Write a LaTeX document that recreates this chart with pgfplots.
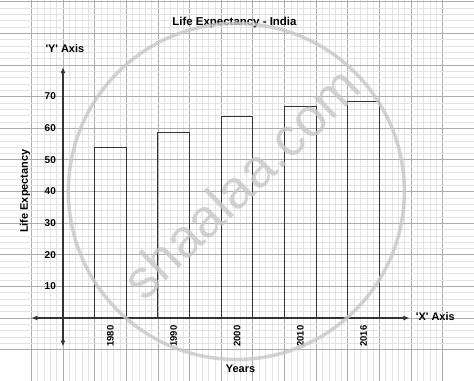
\documentclass[border=0pt]{standalone}
\usepackage{fontspec}
\setmainfont{Liberation Sans}
\usepackage{pgfplots}
\pgfplotsset{compat=1.18}
\usetikzlibrary{arrows.meta}
\begin{document}
\begin{tikzpicture}
\begin{axis}[
  scale only axis, width=474bp, height=381bp,
  xmin=-1.99, xmax=12.99, ymin=-19.9, ymax=100.5,
  xtick={-1,0,...,12}, ytick={-10,0,...,100},
  minor x tick num=4, minor y tick num=4,
  xticklabels={}, yticklabels={},
  major tick length=0pt, minor tick length=0pt,
  grid=both,
  major grid style={draw=black!32, line width=0.7bp},
  minor grid style={draw=black!11, line width=0.45bp},
  axis line style={draw=none},
  clip=false,
]
\addplot[ybar, bar width=1, draw=black!80, fill=none, line width=0.9bp]
  coordinates {(1.5,54) (3.5,58.6) (5.5,63.8) (7.5,66.9) (9.5,68.5)};
\draw[black!80, line width=1.1bp, {Latex[length=6bp,width=5bp]}-{Latex[length=6bp,width=5bp]}] (axis cs:0,-9) -- (axis cs:0,79.3);
\draw[black!80, line width=1.1bp, {Latex[length=6bp,width=5bp]}-{Latex[length=6bp,width=5bp]}] (axis cs:-1,0) -- (axis cs:10.95,0);
\node[font=\bfseries\fontsize{11.5}{13}\selectfont] at (axis cs:5.42,93.5) {Life Expectancy - India};
\node[font=\bfseries\fontsize{11}{13}\selectfont] at (axis cs:0.06,85.3) {\textquotesingle Y\textquotesingle{} Axis};
\node[font=\bfseries\fontsize{11}{13}\selectfont, anchor=west, inner sep=0pt] at (axis cs:11.15,0.4) {\textquotesingle X\textquotesingle{} Axis};
\node[font=\bfseries\fontsize{11}{13}\selectfont] at (axis cs:5.61,-16.1) {Years};
\node[font=\bfseries\fontsize{11}{13}\selectfont, rotate=90] at (axis cs:-1.2,40.1) {Life Expectancy};
\node[font=\bfseries\fontsize{10}{12}\selectfont, anchor=east, inner sep=0pt] at (axis cs:-0.22,10) {10};
\node[font=\bfseries\fontsize{10}{12}\selectfont, anchor=east, inner sep=0pt] at (axis cs:-0.22,20) {20};
\node[font=\bfseries\fontsize{10}{12}\selectfont, anchor=east, inner sep=0pt] at (axis cs:-0.22,30) {30};
\node[font=\bfseries\fontsize{10}{12}\selectfont, anchor=east, inner sep=0pt] at (axis cs:-0.22,40) {40};
\node[font=\bfseries\fontsize{10}{12}\selectfont, anchor=east, inner sep=0pt] at (axis cs:-0.22,50) {50};
\node[font=\bfseries\fontsize{10}{12}\selectfont, anchor=east, inner sep=0pt] at (axis cs:-0.22,60) {60};
\node[font=\bfseries\fontsize{10}{12}\selectfont, anchor=east, inner sep=0pt] at (axis cs:-0.22,70) {70};
\node[font=\bfseries\fontsize{9.5}{12}\selectfont, rotate=90] at (axis cs:1.5,-5.7) {1980};
\node[font=\bfseries\fontsize{9.5}{12}\selectfont, rotate=90] at (axis cs:3.5,-5.7) {1990};
\node[font=\bfseries\fontsize{9.5}{12}\selectfont, rotate=90] at (axis cs:5.5,-5.7) {2000};
\node[font=\bfseries\fontsize{9.5}{12}\selectfont, rotate=90] at (axis cs:7.5,-5.7) {2010};
\node[font=\bfseries\fontsize{9.5}{12}\selectfont, rotate=90] at (axis cs:9.5,-5.7) {2016};
\draw[black!22, opacity=0.8, line width=3.5bp] (axis cs:5.48,40.0) circle[radius=168bp];
\node[text=black!22, opacity=0.8, rotate=44, font=\fontsize{54}{60}\selectfont] at (axis cs:5.62,42.8) {shaalaa.com};
\end{axis}
\pgfresetboundingbox
\path[use as bounding box] (current axis.south west) rectangle (current axis.north east);
\end{tikzpicture}
\end{document}
